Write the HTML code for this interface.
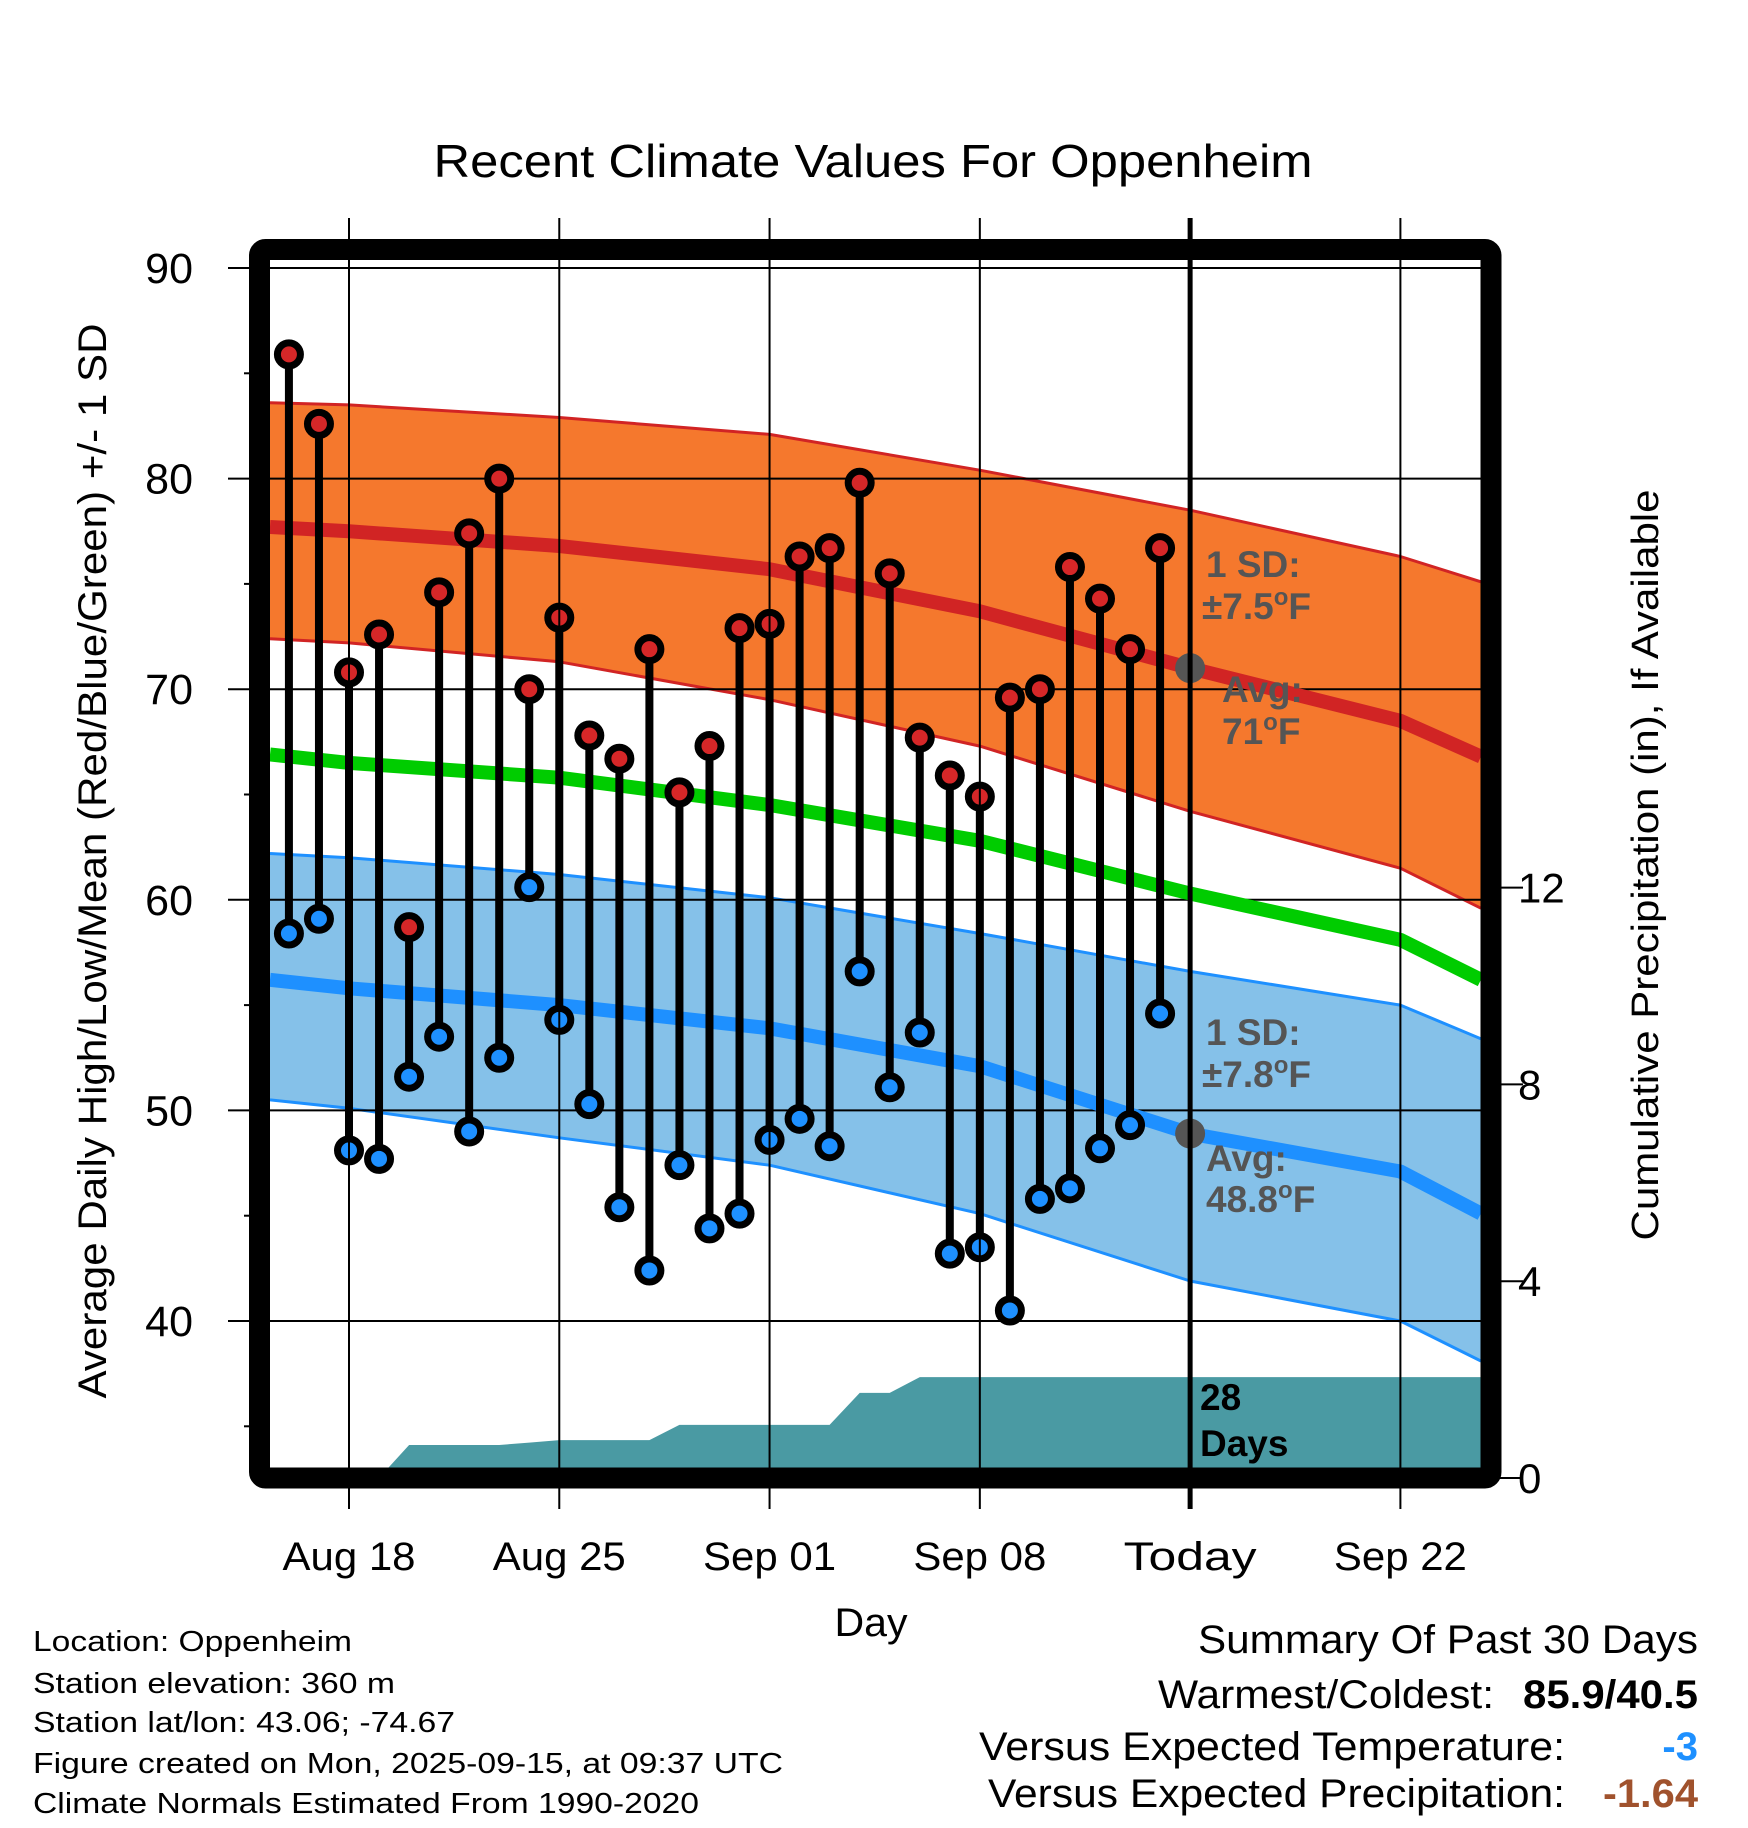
<!DOCTYPE html>
<html><head><meta charset="utf-8"><style>
html,body{margin:0;padding:0;background:#fff;}
svg{display:block;font-family:"Liberation Sans",Arial,sans-serif;}
</style></head><body>
<svg id="chart" width="1748" height="1828" viewBox="0 0 1748 1828" xmlns="http://www.w3.org/2000/svg">
<text x="873" y="177" font-size="46" text-anchor="middle" textLength="879" lengthAdjust="spacingAndGlyphs">Recent Climate Values For Oppenheim</text>
<g id="plot"></g>
<text transform="translate(106,861) rotate(-90)" font-size="40" text-anchor="middle" textLength="1075" lengthAdjust="spacingAndGlyphs">Average Daily High/Low/Mean (Red/Blue/Green) +/- 1 SD</text>
<text transform="translate(1658,865) rotate(-90)" font-size="38" text-anchor="middle" textLength="751" lengthAdjust="spacingAndGlyphs">Cumulative Precipitation (in), If Available</text>
<text x="871" y="1636" font-size="40" text-anchor="middle" textLength="73" lengthAdjust="spacingAndGlyphs">Day</text>
<g font-size="29">
<text x="33" y="1651" textLength="319" lengthAdjust="spacingAndGlyphs">Location: Oppenheim</text>
<text x="33" y="1693" textLength="362" lengthAdjust="spacingAndGlyphs">Station elevation: 360 m</text>
<text x="33" y="1732" textLength="422" lengthAdjust="spacingAndGlyphs">Station lat/lon: 43.06; -74.67</text>
<text x="33" y="1773" textLength="750" lengthAdjust="spacingAndGlyphs">Figure created on Mon, 2025-09-15, at 09:37 UTC</text>
<text x="33" y="1813" textLength="666" lengthAdjust="spacingAndGlyphs">Climate Normals Estimated From 1990-2020</text>
</g>
<g font-size="40">
<text x="1698" y="1653" text-anchor="end" textLength="500" lengthAdjust="spacingAndGlyphs">Summary Of Past 30 Days</text>
<text x="1494" y="1708" text-anchor="end" textLength="336" lengthAdjust="spacingAndGlyphs">Warmest/Coldest:</text>
<text x="1698" y="1708" text-anchor="end" font-weight="bold" textLength="175" lengthAdjust="spacingAndGlyphs">85.9/40.5</text>
<text x="1565" y="1760" text-anchor="end" textLength="586" lengthAdjust="spacingAndGlyphs">Versus Expected Temperature:</text>
<text x="1698" y="1760" text-anchor="end" font-weight="bold" fill="#1e90ff">-3</text>
<text x="1565" y="1807" text-anchor="end" textLength="577" lengthAdjust="spacingAndGlyphs">Versus Expected Precipitation:</text>
<text x="1698" y="1807" text-anchor="end" font-weight="bold" fill="#a0522d" textLength="95" lengthAdjust="spacingAndGlyphs">-1.64</text>
</g>
</svg>
<script>
// ---- data ----
const obsDays = [-2,-1,0,1,2,3,4,5,6,7,8,9,10,11,12,13,14,15,16,17,18,19,20,21,22,23,24,25,26,27];
const highs = [85.9,82.6,70.8,72.6,58.7,74.6,77.4,80.0,70.0,73.4,67.8,66.7,71.9,65.1,67.3,72.9,73.1,76.3,76.7,79.8,75.5,67.7,65.9,64.9,69.6,70.0,75.8,74.3,71.9,76.7];
const lows = [58.4,59.1,48.1,47.7,51.6,53.5,49.0,52.5,60.6,54.3,50.3,45.4,42.4,47.4,44.4,45.1,48.6,49.6,48.3,56.6,51.1,53.7,43.2,43.5,40.5,45.8,46.3,48.2,49.3,54.6];
const normDays = [-2.63,0,7,14,21,28,35,37.68];
const normHigh = [77.7,77.5,76.8,75.7,73.7,71.0,68.5,66.8];
const normHighUp = [83.6,83.5,82.9,82.1,80.4,78.5,76.3,75.1];
const normHighLo = [72.4,72.2,71.3,69.5,67.3,64.2,61.5,59.6];
const normMean = [66.9,66.5,65.8,64.5,62.8,60.3,58.1,56.2];
const normLow = [56.2,55.8,55.0,53.9,52.1,48.9,47.1,45.1];
const normLowUp = [62.2,62.0,61.2,60.1,58.4,56.6,55.0,53.4];
const normLowLo = [50.5,50.1,48.7,47.4,45.1,41.9,40.0,38.1];
const precipDays = [-2.63,0,1,2,3,4,5,6,7,8,9,10,11,12,13,14,15,16,17,18,19,20,21,22,23,24,25,26,27,28,37.68];
const precipCum = [0,0,0,0.67,0.67,0.67,0.67,0.72,0.77,0.77,0.77,0.77,1.08,1.08,1.08,1.08,1.08,1.08,1.73,1.73,2.05,2.05,2.05,2.05,2.05,2.05,2.05,2.05,2.05,2.05,2.05];
const yTicks = [40,50,60,70,80,90];
const yMinor = [35,45,55,65,75,85];
const y2Ticks = [0,4,8,12];
const xTickDays = [0,7,14,21,28,35];
const xTickLabels = ["Aug 18","Aug 25","Sep 01","Sep 08","Today","Sep 22"];
const todayDay = 28;

// ---- axes ----
const X = d => 349 + 30.04*d;
const Y = v => 268 + (90 - v)*21.06;
const YP = p => 1478 - p*49.2;
const L = 270, R = 1481, T = 260, B = 1468;

const NS = "http://www.w3.org/2000/svg";
const plot = document.getElementById('plot');
function mk(tag, attrs, parent){
  const e = document.createElementNS(NS, tag);
  for (const k in attrs) e.setAttribute(k, attrs[k]);
  (parent||plot).appendChild(e);
  return e;
}
const defs = mk('defs', {});
const cp = mk('clipPath', {id:'clip'}, defs);
mk('rect', {x:L, y:T, width:R-L, height:B-T}, cp);
const g = mk('g', {'clip-path':'url(#clip)'});



function linePts(days, vals){ return days.map((d,i)=>X(d).toFixed(1)+','+Y(vals[i]).toFixed(1)).join(' '); }
function bandPts(days, up, lo){
  const a = days.map((d,i)=>X(d).toFixed(1)+','+Y(up[i]).toFixed(1));
  const b = days.map((d,i)=>X(d).toFixed(1)+','+Y(lo[i]).toFixed(1)).reverse();
  return a.concat(b).join(' ');
}
let e = mk('polygon', {points: bandPts(normDays, normHighUp, normHighLo), fill:'#f5782d'}, g);


e = mk('polygon', {points: bandPts(normDays, normLowUp, normLowLo), fill:'#85c1e9'}, g);


[[normHighUp,'#d12424',3,'high-band-upper-edge'],[normHighLo,'#d12424',3,'high-band-lower-edge'],[normLowUp,'#1e90ff',3,'low-band-upper-edge'],[normLowLo,'#1e90ff',3,'low-band-lower-edge']].forEach(s=>{
  const p = mk('polyline', {points: linePts(normDays, s[0]), fill:'none', stroke:s[1], 'stroke-width':s[2], 'stroke-linejoin':'round'}, g);
  
  
});
yTicks.forEach(v=>{
  const l = mk('line', {x1:L, x2:R, y1:Y(v), y2:Y(v), stroke:'#000', 'stroke-width':2}, g);
  
  
});
[[normHigh,'#d12424','avg-high-line'],[normMean,'#00cc00','mean-line'],[normLow,'#1e90ff','avg-low-line']].forEach(s=>{
  const p = mk('polyline', {points: linePts(normDays, s[0]), fill:'none', stroke:s[1], 'stroke-width':14, 'stroke-linejoin':'round'}, g);
  
  
});
{
  const pts = precipDays.map((d,i)=>X(d).toFixed(1)+','+YP(precipCum[i]).toFixed(1));
  pts.push(X(precipDays[precipDays.length-1]).toFixed(1)+','+YP(0));
  pts.push(X(precipDays[0]).toFixed(1)+','+YP(0));
  const p = mk('polygon', {points: pts.join(' '), fill:'#4a9aa3'}, g);
  
  
}
xTickDays.forEach((d,i)=>{
  const l = mk('line', {x1:X(d), x2:X(d), y1:218, y2:1509, stroke:'#000', 'stroke-width': d===todayDay?5:2});
  
  
  const t = mk('text', {x:X(d), y:1570, 'font-size':40, 'text-anchor':'middle', textLength:133, lengthAdjust:'spacingAndGlyphs'});
  t.textContent = xTickLabels[i];
  
  
});
obsDays.forEach((d,i)=>{
  const s = mk('line', {x1:X(d), x2:X(d), y1:Y(highs[i]), y2:Y(lows[i]), stroke:'#000', 'stroke-width':8}, g);
  
  
  const h = mk('circle', {cx:X(d), cy:Y(highs[i]), r:11.5, fill:'#d62728', stroke:'#000', 'stroke-width':7}, g);
  
  
  const lo = mk('circle', {cx:X(d), cy:Y(lows[i]), r:11.5, fill:'#1e90ff', stroke:'#000', 'stroke-width':7}, g);
  
  
});
{
  const hi = normHigh[normDays.indexOf(28)], lw = normLow[normDays.indexOf(28)];
  let c = mk('circle', {cx:X(todayDay), cy:Y(hi), r:15, fill:'#555'}, g);
  
  
  c = mk('circle', {cx:X(todayDay), cy:Y(lw), r:15, fill:'#555'}, g);
  
  
}
function ann(x, y, txt, name, fill){
  const t = mk('text', {x:x, y:y, 'font-size':37, 'font-weight':'bold', fill:fill||'#555'});
  t.innerHTML = txt;
  
  
}
ann(1206, 577, '1 SD:', 'high-sd-label');
ann(1202, 619, '±7.5<tspan font-size="24" dy="-14">o</tspan><tspan dy="14">F</tspan>', 'high-sd-value');
ann(1222, 702, 'Avg:', 'high-avg-label');
ann(1222, 744, '71<tspan font-size="24" dy="-14">o</tspan><tspan dy="14">F</tspan>', 'high-avg-value');
ann(1206, 1045, '1 SD:', 'low-sd-label');
ann(1202, 1087, '±7.8<tspan font-size="24" dy="-14">o</tspan><tspan dy="14">F</tspan>', 'low-sd-value');
ann(1206, 1171, 'Avg:', 'low-avg-label');
ann(1206, 1212, '48.8<tspan font-size="24" dy="-14">o</tspan><tspan dy="14">F</tspan>', 'low-avg-value');
ann(1200, 1410, '28', 'precip-days-count', '#000');
ann(1200, 1456, 'Days', 'precip-days-label', '#000');
{
  const f = mk('rect', {x:259.5, y:249.5, width:1231.5, height:1228.5, rx:6, fill:'none', stroke:'#000', 'stroke-width':21});
  
  
}
yTicks.forEach(v=>{
  const l = mk('line', {x1:228, x2:250, y1:Y(v), y2:Y(v), stroke:'#000', 'stroke-width':2});
  
  
  const t = mk('text', {x:193, y:Y(v)+15, 'font-size':43, 'text-anchor':'end'});
  t.textContent = v;
  
  
});
yMinor.forEach(v=>{
  const l = mk('line', {x1:244, x2:250, y1:Y(v), y2:Y(v), stroke:'#000', 'stroke-width':2});
  
  
});
y2Ticks.forEach(p=>{
  const l = mk('line', {x1:1500, x2:1523, y1:YP(p), y2:YP(p), stroke:'#000', 'stroke-width':2});
  
  
  const t = mk('text', {x:1518, y:YP(p)+15, 'font-size':42});
  t.textContent = p;
  
  
});
</script>
</body></html>
